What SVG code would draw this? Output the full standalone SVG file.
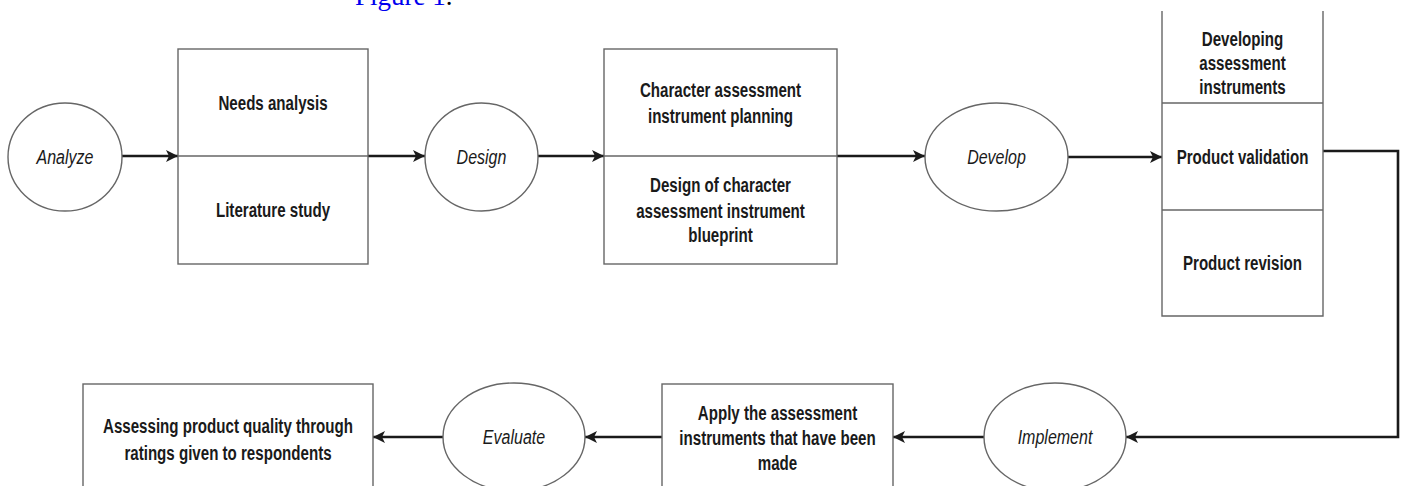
<svg xmlns="http://www.w3.org/2000/svg" width="1403" height="486" viewBox="0 0 1403 486">
  <style>
    .box { fill: #ffffff; stroke: #666666; stroke-width: 1.4; }
    .div { stroke: #666666; stroke-width: 1.4; fill: none; }
    .ell { fill: #ffffff; stroke: #666666; stroke-width: 1.4; }
    .con { stroke: #1a1a1a; stroke-width: 2.6; fill: none; }
    .t { font-family: "Liberation Sans", Arial, sans-serif; font-size: 20px; font-weight: bold; fill: #1a1a1a; text-anchor: middle; }
    .i { font-family: "Liberation Sans", Arial, sans-serif; font-size: 20px; font-style: italic; font-weight: normal; fill: #1a1a1a; text-anchor: middle; }
    .cap { font-family: "Liberation Serif", "Times New Roman", serif; font-size: 27px; }
  </style>
  <defs>
    <marker id="arr" markerUnits="userSpaceOnUse" markerWidth="12" markerHeight="12" refX="12" refY="6" orient="auto">
      <path d="M0,0 L12,6 L0,12 L3,6 Z" fill="#1a1a1a"/>
    </marker>
  </defs>
  <rect width="1403" height="486" fill="#ffffff"/>

  <text class="cap" x="355" y="5"><tspan fill="#0000ee">Figure 1</tspan><tspan fill="#000000">.</tspan></text>

  <g id="connectors">
    <line class="con" x1="122" y1="156" x2="178" y2="156" marker-end="url(#arr)"/>
    <line class="con" x1="368" y1="156" x2="425" y2="156" marker-end="url(#arr)"/>
    <line class="con" x1="538" y1="156" x2="604" y2="156" marker-end="url(#arr)"/>
    <line class="con" x1="837" y1="156" x2="925" y2="156" marker-end="url(#arr)"/>
    <line class="con" x1="1068" y1="157" x2="1162" y2="157" marker-end="url(#arr)"/>
    <polyline class="con" points="1323,151 1398,151 1398,437 1126,437" marker-end="url(#arr)"/>
    <line class="con" x1="984" y1="437" x2="893" y2="437" marker-end="url(#arr)"/>
    <line class="con" x1="662" y1="437" x2="585" y2="437" marker-end="url(#arr)"/>
    <line class="con" x1="443" y1="437" x2="373" y2="437" marker-end="url(#arr)"/>
  </g>

  <g id="analyze">
    <ellipse class="ell" cx="65" cy="157" rx="57" ry="54"/>
    <text class="i" transform="translate(65,164) scale(0.8,1)">Analyze</text>
  </g>

  <g id="analyze-box">
    <rect class="box" x="178" y="49" width="190" height="215"/>
    <line class="div" x1="178" y1="156" x2="368" y2="156"/>
    <text class="t" transform="translate(273,110) scale(0.755,1)">Needs analysis</text>
    <text class="t" transform="translate(273,217) scale(0.755,1)">Literature study</text>
  </g>

  <g id="design">
    <ellipse class="ell" cx="481.5" cy="157" rx="56.5" ry="54"/>
    <text class="i" transform="translate(481.5,164) scale(0.8,1)">Design</text>
  </g>

  <g id="design-box">
    <rect class="box" x="604" y="49" width="233" height="215"/>
    <line class="div" x1="604" y1="156" x2="837" y2="156"/>
    <text class="t" transform="translate(720.5,97) scale(0.755,1)">Character assessment</text>
    <text class="t" transform="translate(720.5,123) scale(0.755,1)">instrument planning</text>
    <text class="t" transform="translate(720.5,192) scale(0.755,1)">Design of character</text>
    <text class="t" transform="translate(720.5,218) scale(0.755,1)">assessment instrument</text>
    <text class="t" transform="translate(720.5,242) scale(0.755,1)">blueprint</text>
  </g>

  <g id="develop">
    <ellipse class="ell" cx="996.5" cy="157" rx="71.5" ry="54"/>
    <text class="i" transform="translate(996.5,164) scale(0.8,1)">Develop</text>
  </g>

  <g id="develop-box">
    <path class="div" d="M1162,11 L1162,316 L1323,316 L1323,11"/>
    <line class="div" x1="1162" y1="103" x2="1323" y2="103"/>
    <line class="div" x1="1162" y1="210" x2="1323" y2="210"/>
    <text class="t" transform="translate(1242.5,46) scale(0.755,1)">Developing</text>
    <text class="t" transform="translate(1242.5,70) scale(0.755,1)">assessment</text>
    <text class="t" transform="translate(1242.5,94) scale(0.755,1)">instruments</text>
    <text class="t" transform="translate(1242.5,164) scale(0.755,1)">Product validation</text>
    <text class="t" transform="translate(1242.5,270) scale(0.755,1)">Product revision</text>
  </g>

  <g id="implement">
    <ellipse class="ell" cx="1055" cy="437" rx="71" ry="54"/>
    <text class="i" transform="translate(1055,444) scale(0.8,1)">Implement</text>
  </g>

  <g id="apply-box">
    <rect class="box" x="662" y="384" width="231" height="140"/>
    <text class="t" transform="translate(777.5,420) scale(0.755,1)">Apply the assessment</text>
    <text class="t" transform="translate(777.5,445) scale(0.755,1)">instruments that have been</text>
    <text class="t" transform="translate(777.5,470) scale(0.755,1)">made</text>
  </g>

  <g id="evaluate">
    <ellipse class="ell" cx="514" cy="437" rx="71" ry="54"/>
    <text class="i" transform="translate(514,444) scale(0.8,1)">Evaluate</text>
  </g>

  <g id="assess-box">
    <rect class="box" x="83" y="384" width="290" height="140"/>
    <text class="t" transform="translate(228,433) scale(0.755,1)">Assessing product quality through</text>
    <text class="t" transform="translate(228,460) scale(0.755,1)">ratings given to respondents</text>
  </g>
</svg>
